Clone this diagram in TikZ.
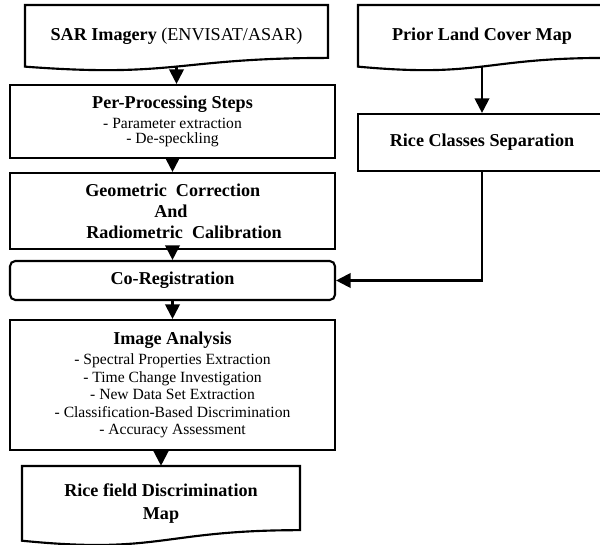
\documentclass[tikz,border=0pt]{standalone}
\usepackage{fontspec}
\setmainfont{Liberation Serif}
\usetikzlibrary{arrows.meta}
\newcommand\ttl{\fontsize{13.6pt}{16pt}\selectfont\bfseries}
\newcommand\docpath[4]{%
  \draw[ln] (#1,#2) -- ({#1+#3},#2) -- ({#1+#3},{#2+0.802*#4})
    .. controls ({#1+0.5*#3},{#2+0.802*#4}) and ({#1+0.5*#3},{#2+1.107*#4}) ..
    (#1,{#2+0.934*#4}) -- cycle;}
\begin{document}
\begin{tikzpicture}[x=0.75pt,y=-0.75pt,
  ln/.style={line width=1.6pt, line join=miter},
  box/.style={ln, draw, inner sep=0pt, align=center},
  doctext/.style={inner sep=0pt, align=center},
  arr/.style={ln, -{Triangle[length=11pt,width=11pt]}}]
\useasboundingbox (0,0) rectangle (600,545);
\clip (0,0) rectangle (600,545);

% document shapes
\docpath{25}{5}{303}{66}
\docpath{358}{5}{248}{66}
\docpath{22}{466}{278}{80}

\node[doctext, minimum width=227.25pt, minimum height=46.2pt] (sar) at (176.5,35.8)
  {\fontsize{13.6pt}{16pt}\selectfont\textbf{SAR Imagery} (ENVISAT/ASAR)};
\node[doctext, minimum width=186pt, minimum height=46.2pt] (prior) at (482,35.8)
  {\ttl Prior Land Cover Map};
\node[doctext, minimum width=208.5pt, minimum height=56pt,
  font={\fontsize{13.6pt}{17.25pt}\selectfont\bfseries}] (map) at (161,503.3)
  {Rice field Discrimination\\Map};

% boxes
\node[box, minimum width=243.75pt, minimum height=54.75pt,
  font={\fontsize{11.7pt}{11.25pt}\selectfont}] (pp) at (172.5,121.5)
  {{\ttl Per-Processing Steps}\\[3.75pt]- Parameter extraction\\- De-speckling};
\node[box, minimum width=186pt, minimum height=42.75pt] (rice) at (482,142.5)
  {\ttl Rice Classes Separation};
\node[box, minimum width=243.75pt, minimum height=57pt, align=left,
  font={\fontsize{13.6pt}{15.75pt}\selectfont\bfseries}] (geo) at (172.5,211)
  {\hspace*{16.5pt}Geometric\ \ Correction\\
   \hspace*{68.25pt}And\\
   \hspace*{17.25pt}Radiometric\ \ Calibration};
\node[box, rounded corners=4pt, minimum width=243.75pt, minimum height=29.25pt] (coreg) at (172.5,280.5)
  {\ttl Co-Registration};
\node[box, minimum width=243.75pt, minimum height=97.5pt,
  font={\fontsize{11.7pt}{13.2pt}\selectfont}] (ia) at (172.5,385)
  {{\ttl Image Analysis}\\[1.8pt]- Spectral Properties Extraction\\- Time Change Investigation\\
   - New Data Set Extraction\\- Classification-Based Discrimination\\- Accuracy Assessment};

% connectors
\draw[arr] (sar.south) -- (sar.south |- pp.north);
\draw[arr] (pp.south) -- (geo.north);
\draw[arr] (geo.south) -- (coreg.north);
\draw[arr] (coreg.south) -- (ia.north);
\draw[arr] (map.north |- ia.south) -- (map.north);
\draw[arr] (prior.south) -- (rice.north);
\draw[arr] (rice.south) |- (coreg.east);
\end{tikzpicture}
\end{document}
